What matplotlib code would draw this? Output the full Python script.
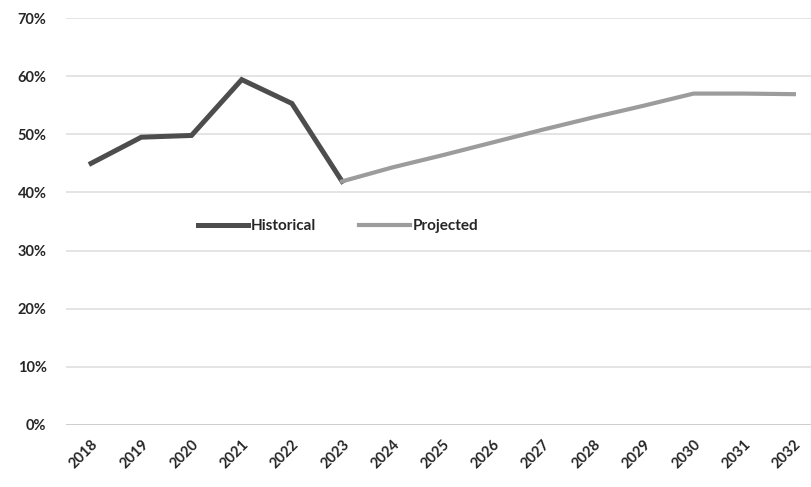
import matplotlib
matplotlib.use("Agg")
import matplotlib.pyplot as plt
from matplotlib.ticker import FuncFormatter

years = list(range(2018, 2033))
hist_years = [2018, 2019, 2020, 2021, 2022, 2023]
hist_values = [45.0, 49.5, 49.8, 59.4, 55.3, 41.9]
proj_years = [2023, 2024, 2025, 2026, 2027, 2028, 2029, 2030, 2031, 2032]
proj_values = [41.9, 44.3, 46.4, 48.6, 50.8, 52.9, 54.9, 57.0, 57.0, 56.9]
y_ticks = [0, 10, 20, 30, 40, 50, 60, 70]

plt.rcParams["font.family"] = ["Lato", "DejaVu Sans"]

W, H = 811, 487
fig = plt.figure(figsize=(W / 100, H / 100), dpi=100)
left, right = 66, 819
bottom, top = 62, 487 - 18
ax = fig.add_axes([left / W, bottom / H, (right - left) / W, (top - bottom) / H])

ax.plot(hist_years, hist_values, color="#4d4d4d", lw=3.6,
        solid_joinstyle="miter", label="Historical", zorder=3)
ax.plot(proj_years, proj_values, color="#9c9c9c", lw=3.0,
        solid_joinstyle="miter", label="Projected", zorder=3)

ax.set_xlim(2017.5, 2032.5)
ax.set_ylim(0, 70)
ax.set_yticks(y_ticks)
ax.yaxis.set_major_formatter(FuncFormatter(lambda v, p: f"{v:.0f}%"))
ax.set_xticks(years)
ax.set_xticklabels([str(y) for y in years], rotation=45, ha="right",
                   rotation_mode="anchor")

for y in y_ticks:
    ax.axhline(y, color="#c9c9c9" if y == 0 else "#dcdcdc",
               lw=1.3 if y == 0 else 1.1, zorder=1)

for s in ax.spines.values():
    s.set_visible(False)
ax.tick_params(axis="both", length=0, labelsize=10.5, labelcolor="#262626")
ax.tick_params(axis="y", pad=14)
ax.tick_params(axis="x", pad=9)
for lab in ax.get_xticklabels() + ax.get_yticklabels():
    lab.set_fontweight("bold")

# legend sits inside the plot, centred just below the 40% line
leg_x = (338 - left) / (right - left)
leg_y = 1 - (226 - 18) / (top - bottom)
leg = ax.legend(loc="center", bbox_to_anchor=(leg_x, leg_y),
                ncol=2, frameon=False, fontsize=11, handlelength=3.3,
                handletextpad=0.2, columnspacing=2.8)
for t in leg.get_texts():
    t.set_color("#262626")
    t.set_fontweight("bold")

fig.savefig("out.png", dpi=100)
